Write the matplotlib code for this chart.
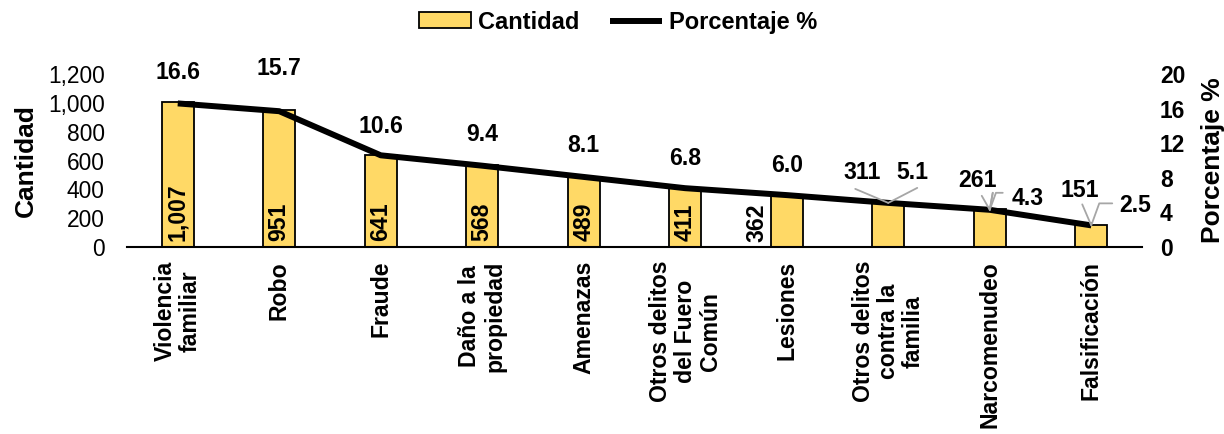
import matplotlib
matplotlib.use("Agg")
import matplotlib.pyplot as plt
import numpy as np

categories = ["Violencia\nfamiliar", "Robo", "Fraude", "Daño a la\npropiedad", "Amenazas",
              "Otros delitos\ndel Fuero\nComún", "Lesiones", "Otros delitos\ncontra la\nfamilia",
              "Narcomenudeo", "Falsificación"]
cantidad = [1007, 951, 641, 568, 489, 411, 362, 311, 261, 151]
porcentaje = [16.6, 15.7, 10.6, 9.4, 8.1, 6.8, 6.0, 5.1, 4.3, 2.5]
left_ticks = [0, 200, 400, 600, 800, 1000, 1200]
right_ticks = [0, 4, 8, 12, 16, 20]

plt.rcParams['font.family'] = ['Liberation Sans', 'DejaVu Sans']

FS = 16.6
fig = plt.figure(figsize=(12.24, 4.34), dpi=100)
ax = fig.add_axes([127/1224, 1-247/434, (1142-127)/1224, (247-74)/434])
ax2 = ax.twinx()

x = np.arange(len(categories))
bars = ax.bar(x, cantidad, width=0.32, color="#FFD966", edgecolor="black", linewidth=1.3, zorder=2,
              label="Cantidad")
line, = ax2.plot(x, porcentaje, color="black", linewidth=4.3, solid_capstyle="butt", zorder=3,
                 label="Porcentaje %")

ax.set_xlim(-0.5, len(categories) - 0.5)
ax.set_ylim(0, 1200)
ax2.set_ylim(0, 20)
ax.set_yticks(left_ticks)
ax.set_yticklabels([f"{v:,}" for v in left_ticks], fontsize=16.4)
ax2.set_yticks(right_ticks)
ax2.set_yticklabels([str(v) for v in right_ticks], fontsize=16.4, fontweight="bold")
ax.tick_params(axis="y", length=0, pad=16)
ax2.tick_params(axis="y", length=0, pad=13)
ax.set_xticks(x)
ax.set_xticklabels(categories, rotation=90, fontsize=FS, fontweight="bold",
                   va="top", ha="center", multialignment="center", linespacing=1.1)
ax.tick_params(axis="x", length=0, pad=10)

for a in (ax, ax2):
    for s in ("top", "left", "right"):
        a.spines[s].set_visible(False)
ax2.spines["bottom"].set_visible(False)
ax.spines["bottom"].set_linewidth(1.5)

ax.set_ylabel("Cantidad", fontsize=19, fontweight="bold", labelpad=7)
ax2.set_ylabel("Porcentaje %", fontsize=19, fontweight="bold", labelpad=11)

# bar value labels (inside, rotated)
for i, v in enumerate(cantidad):
    if i <= 5:
        ax.annotate(f"{v:,}", (x[i], 0), xytext=(0, 6), textcoords="offset pixels",
                    rotation=90, ha="center", va="bottom", fontsize=FS, fontweight="bold", zorder=5)
# Lesiones label left of bar
ax.annotate(f"{cantidad[6]:,}", (x[6], 0), xytext=(-30, 5), textcoords="offset pixels",
            rotation=90, ha="center", va="bottom", fontsize=FS, fontweight="bold")

# percentage labels above line
offsets = [31, 43, 29, 31, 31, 30, 30]
for i in range(7):
    ax2.annotate(f"{porcentaje[i]:.1f}", (x[i], porcentaje[i]), xytext=(0, offsets[i]),
                 textcoords="offset pixels", ha="center", va="center", fontsize=FS,
                 fontweight="bold", zorder=5)

# labels with leader lines for last three
gray = "#A6A6A6"
lead = dict(arrowstyle="-", color=gray, lw=1.3, shrinkA=0, shrinkB=0)
# Otros delitos contra la familia
i = 7
ax2.annotate(f"{cantidad[i]}", (x[i], porcentaje[i]), xytext=(-26, 30), textcoords="offset pixels",
             ha="center", va="center", fontsize=FS, fontweight="bold")
ax2.annotate("", (x[i], porcentaje[i]), xytext=(-33, 14), textcoords="offset pixels",
             arrowprops=lead)
ax2.annotate(f"{porcentaje[i]:.1f}", (x[i], porcentaje[i]), xytext=(24, 30), textcoords="offset pixels",
             ha="center", va="center", fontsize=FS, fontweight="bold")
ax2.annotate("", (x[i], porcentaje[i]), xytext=(29, 15), textcoords="offset pixels",
             arrowprops=lead)
# Narcomenudeo
i = 8
ax2.annotate(f"{cantidad[i]}", (x[i], porcentaje[i]), xytext=(-12, 29), textcoords="offset pixels",
             ha="center", va="center", fontsize=FS, fontweight="bold")
ax2.annotate("", (x[i], porcentaje[i]), xytext=(-8, 14), textcoords="offset pixels",
             arrowprops=lead)
ax2.annotate(f"{porcentaje[i]:.1f}", (x[i], porcentaje[i]), xytext=(38, 11), textcoords="offset pixels",
             ha="center", va="center", fontsize=FS, fontweight="bold")
ax2.annotate("", (x[i], porcentaje[i]), xytext=(3, 17), textcoords="offset pixels",
             arrowprops=lead)
ax2.annotate("", (x[i], porcentaje[i]), xytext=(3, 17), textcoords="offset pixels",
             arrowprops=dict(lead))
# horizontal segment of the 4.3 leader
ax2.annotate("", (x[i], porcentaje[i]), xytext=(13, 17), textcoords="offset pixels",
             xycoords="data", arrowprops=dict(arrowstyle="-", color=gray, lw=1.3,
                                               shrinkA=0, shrinkB=0,
                                               connectionstyle="angle,angleA=180,angleB=70,rad=0"))
# Falsificación
i = 9
ax2.annotate(f"{cantidad[i]}", (x[i], porcentaje[i]), xytext=(-11, 35), textcoords="offset pixels",
             ha="center", va="center", fontsize=FS, fontweight="bold")
ax2.annotate("", (x[i], porcentaje[i]), xytext=(-9, 21), textcoords="offset pixels",
             arrowprops=lead)
ax2.annotate(f"{porcentaje[i]:.1f}", (x[i], porcentaje[i]), xytext=(44, 20), textcoords="offset pixels",
             ha="center", va="center", fontsize=FS, fontweight="bold")
ax2.annotate("", (x[i], porcentaje[i]), xytext=(21, 22), textcoords="offset pixels",
             arrowprops=dict(arrowstyle="-", color=gray, lw=1.3, shrinkA=0, shrinkB=0,
                             connectionstyle="angle,angleA=180,angleB=70,rad=0"))

fig.legend(handles=[bars, line], labels=["Cantidad", "Porcentaje %"], loc="center",
           bbox_to_anchor=(0.505, 0.949), ncol=2, frameon=False,
           prop=dict(size=17, weight="bold"), handlelength=2.2, handleheight=0.65,
           handletextpad=0.3, columnspacing=1.3)

fig.savefig("out.png", dpi=100)
